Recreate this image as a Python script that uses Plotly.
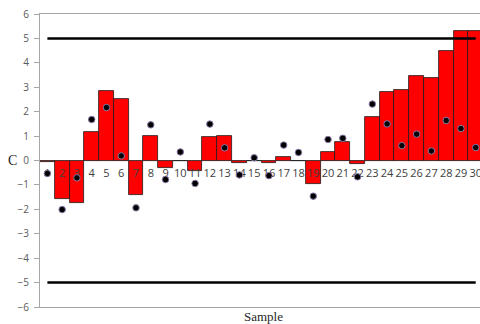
import plotly.graph_objects as go

samples = list(range(1, 31))
bar_values = [-0.05, -1.56, -1.76, 1.16, 2.84, 2.50, -1.42, 1.01, -0.29, 0.0,
              -0.44, 0.97, 1.01, -0.10, 0.0, -0.12, 0.15, 0.0, -0.98, 0.34,
              0.75, -0.16, 1.79, 2.80, 2.89, 3.47, 3.36, 4.48, 5.29, 5.29]
dot_values = [-0.53, -2.01, -0.71, 1.68, 2.17, 0.19, -1.94, 1.46, -0.78, 0.35,
              -0.94, 1.49, 0.52, -0.59, 0.11, -0.62, 0.63, 0.33, -1.46, 0.86,
              0.91, -0.67, 2.31, 1.50, 0.61, 1.08, 0.39, 1.64, 1.31, 0.53]
tick_labels = [str(s) for s in samples]
label_y = [-0.55] * len(samples)
upper_limit = 5
lower_limit = -5
y_ticks = list(range(-6, 7))

fig = go.Figure()
fig.add_trace(go.Bar(x=samples, y=bar_values, marker=dict(color="#ff0000",
                     line=dict(color="#1a1a1a", width=0.8)), width=1.0,
                     showlegend=False, hoverinfo="skip"))
fig.add_trace(go.Scatter(x=[samples[0], samples[-1]], y=[upper_limit, upper_limit],
                         mode="lines", line=dict(color="black", width=2.5), showlegend=False))
fig.add_trace(go.Scatter(x=[samples[0], samples[-1]], y=[lower_limit, lower_limit],
                         mode="lines", line=dict(color="black", width=2.5), showlegend=False))
fig.add_trace(go.Scatter(x=samples, y=label_y, mode="text", text=tick_labels,
                         textposition="middle center",
                         textfont=dict(family="Open Sans", size=11, color="#404040"),
                         showlegend=False, hoverinfo="skip", cliponaxis=False))
fig.add_trace(go.Scatter(x=samples, y=dot_values, mode="markers",
                         marker=dict(color="black", size=6.5, line=dict(color="#8a7aa8", width=1)),
                         showlegend=False))

plot_l, plot_t, plot_b = 40, 14, 17
plot_w, plot_h = 480 - plot_l, 324 - plot_t - plot_b

fig.update_layout(
    width=480, height=324,
    margin=dict(l=plot_l, r=0, t=plot_t, b=plot_b, autoexpand=False),
    paper_bgcolor="white", plot_bgcolor="white",
    bargap=0,
    xaxis=dict(range=[0.5, 30.29], showticklabels=False, ticks="", showgrid=False,
               zeroline=False, showline=True, mirror=True, linecolor="#a6a6a6", linewidth=1),
    yaxis=dict(range=[-6, 6], tickvals=y_ticks, showgrid=False, zeroline=True,
               zerolinecolor="#c8c8c8", zerolinewidth=1, showline=True, linecolor="#a6a6a6",
               linewidth=1, ticks="outside", ticklen=5, tickcolor="#a6a6a6",
               ticklabelstandoff=3,
               tickfont=dict(family="Open Sans", size=10, color="#595959")),
    annotations=[
        dict(text="C", xref="paper", yref="paper", x=(12 - plot_l) / plot_w,
             y=(324 - plot_b - 160) / plot_h, xanchor="center", yanchor="middle",
             showarrow=False, font=dict(family="Liberation Serif", size=14, color="#262626")),
        dict(text="Sample", xref="paper", yref="paper", x=(263 - plot_l) / plot_w,
             y=(324 - plot_b - 316) / plot_h, xanchor="center", yanchor="middle",
             showarrow=False, font=dict(family="Liberation Serif", size=13, color="#262626")),
    ],
)
fig.write_html("out.html", config={"displayModeBar": False},
               post_script="document.body.style.margin='0';document.body.style.overflow='hidden';")
